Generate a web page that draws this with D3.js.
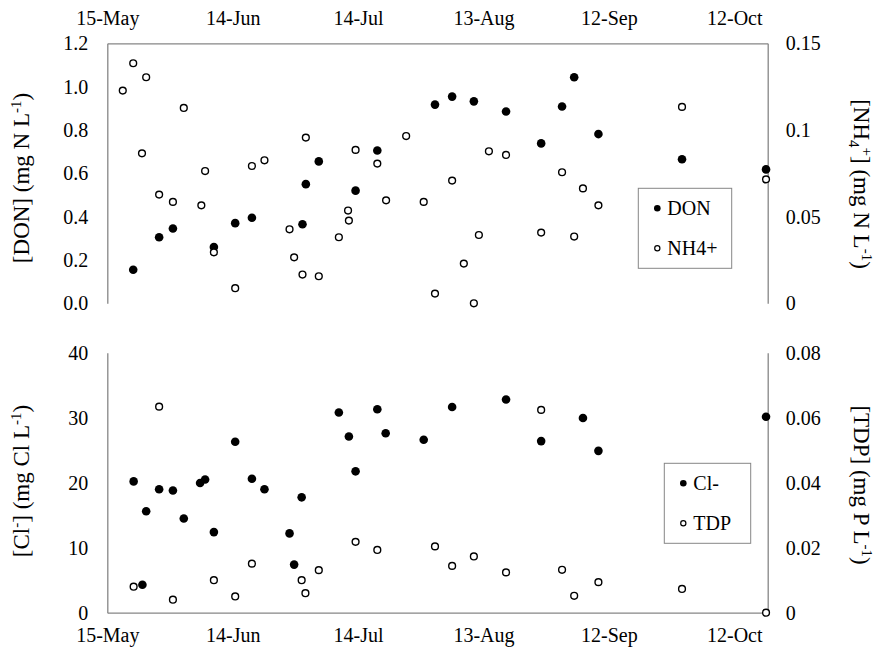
<!DOCTYPE html>
<html>
<head>
  <meta charset="UTF-8">
  <title>DON, NH4+, Cl- and TDP</title>
  <script src="https://d3js.org/d3.v7.min.js"></script>
  <style>
    body {
      margin: 0;
      background: #fff;
    }
    svg text, svg tspan {
      font-family: "Times New Roman", "Liberation Serif", Tinos, serif !important;
    }
    .axis path {
      stroke: #868686;
      stroke-width: 1.3;
    }
    .legend-box {
      fill: #fff;
      stroke: #868686;
      stroke-width: 1;
    }
  </style>
</head>
<body>
  <svg id="chart" width="875" height="651"></svg>
  <script>
    // days after 15-May for every sample, and measured values
    const donDays = [6.2, 12.4, 15.7, 25.5, 30.6, 34.6, 46.7, 47.5, 50.6, 59.4, 64.6,
                     78.4, 82.5, 87.7, 95.4, 103.8, 108.8, 111.7, 117.5, 137.5, 157.6];
    const donVals = [0.155, 0.305, 0.345, 0.26, 0.37, 0.395, 0.365, 0.55, 0.655, 0.52, 0.705,
                     0.917, 0.954, 0.932, 0.885, 0.738, 0.908, 1.043, 0.781, 0.665, 0.618];

    const nh4Days = [3.7, 6.2, 9.3, 8.3, 12.4, 15.7, 18.3, 22.5, 23.4, 25.5, 30.6, 34.6, 37.6,
                     43.6, 44.7, 46.7, 47.5, 50.6, 55.4, 57.6, 57.8, 59.4, 64.6, 66.7, 71.5,
                     75.7, 78.4, 82.5, 85.3, 87.7, 88.9, 91.3, 95.4, 103.8, 108.8, 111.7,
                     113.8, 117.5, 137.5, 157.6];
    const nh4Vals = [0.1227, 0.1385, 0.1304, 0.0865, 0.0627, 0.0585, 0.1127, 0.0565, 0.0763,
                     0.0294, 0.0087, 0.0792, 0.0825, 0.0427, 0.0265, 0.0166, 0.0956, 0.0156,
                     0.0381, 0.0535, 0.0477, 0.0885, 0.0806, 0.0594, 0.0965, 0.0585, 0.0056,
                     0.0708, 0.0229, 0.0, 0.0394, 0.0877, 0.0856, 0.0408, 0.0756, 0.0385,
                     0.0663, 0.0565, 0.1133, 0.0715];

    const clDays = [6.3, 8.4, 9.3, 12.4, 15.7, 18.3, 22.2, 23.4, 25.5, 30.6, 34.6, 37.6, 43.6,
                    44.7, 46.5, 55.4, 57.8, 59.4, 64.6, 66.6, 75.7, 82.5, 95.4, 103.8, 113.8,
                    117.5, 157.6];
    const clVals = [20.2, 4.3, 15.6, 19.0, 18.8, 14.5, 19.95, 20.5, 12.4, 26.3, 20.6, 19.0, 12.2,
                    7.4, 17.75, 30.8, 27.1, 21.75, 31.3, 27.6, 26.6, 31.65, 32.8, 26.4, 29.95,
                    24.9, 30.15];

    const tdpDays = [6.3, 12.4, 15.7, 25.5, 30.6, 34.6, 46.5, 47.4, 50.6, 59.4, 64.6, 78.4,
                     82.5, 87.7, 95.4, 103.8, 108.8, 111.7, 117.5, 137.5, 157.6];
    const tdpVals = [0.008, 0.0634, 0.004, 0.010, 0.005, 0.0151, 0.010, 0.006, 0.0131, 0.0218,
                     0.0193, 0.0204, 0.0144, 0.0173, 0.0124, 0.0624, 0.0132, 0.0052, 0.0094,
                     0.0073, 0];

    const dateTicks = ["2013-05-15", "2013-06-14", "2013-07-14", "2013-08-13", "2013-09-12", "2013-10-12"];
    const donTicks = [0, 0.2, 0.4, 0.6, 0.8, 1.0, 1.2];
    const nh4Ticks = [0, 0.05, 0.1, 0.15];
    const clTicks = [0, 10, 20, 30, 40];
    const tdpTicks = [0, 0.02, 0.04, 0.06, 0.08];

    const FONT = "Times New Roman";
    const left = 107.3, right = 767.7;
    const topPanel = { y0: 43.3, y1: 303.3 };
    const botPanel = { y0: 352.7, y1: 612.7 };

    const parse = d3.timeParse("%Y-%m-%d");
    const start = parse("2013-05-15");
    const toDate = d => new Date(start.getTime() + d * 864e5);

    const svg = d3.select("#chart").attr("font-family", FONT);

    const x = d3.scaleTime()
      .domain([start, toDate(158)])
      .range([left, right]);

    const yDon = d3.scaleLinear().domain([0, 1.2]).range([topPanel.y1, topPanel.y0]);
    const yNh4 = d3.scaleLinear().domain([0, 0.15]).range([topPanel.y1, topPanel.y0]);
    const yCl = d3.scaleLinear().domain([0, 40]).range([botPanel.y1, botPanel.y0]);
    const yTdp = d3.scaleLinear().domain([0, 0.08]).range([botPanel.y1, botPanel.y0]);

    const fmtDate = d3.timeFormat("%-d-%b");

    const serif = (sel, size) => sel
      .attr("font-family", FONT)
      .attr("font-size", size)
      .style("font-family", FONT, "important")
      .style("font-size", size + "px");

    function styleAxis(g) {
      g.attr("class", "axis").attr("font-family", FONT).attr("font-size", 20);
      g.selectAll("text").call(serif, 20).attr("fill", "#000");
    }

    // axes
    svg.append("g")
      .attr("transform", `translate(0,${topPanel.y0})`)
      .call(d3.axisTop(x).tickValues(dateTicks.map(parse)).tickFormat(fmtDate)
        .tickSize(0).tickPadding(18))
      .call(styleAxis);

    svg.append("g")
      .attr("transform", `translate(0,${botPanel.y1})`)
      .call(d3.axisBottom(x).tickValues(dateTicks.map(parse)).tickFormat(fmtDate)
        .tickSize(0).tickPadding(15))
      .call(styleAxis);

    svg.append("g")
      .attr("transform", `translate(${left},0)`)
      .call(d3.axisLeft(yDon).tickValues(donTicks).tickFormat(d3.format(".1f"))
        .tickSize(0).tickPadding(19))
      .call(styleAxis);

    svg.append("g")
      .attr("transform", `translate(${right},0)`)
      .call(d3.axisRight(yNh4).tickValues(nh4Ticks).tickFormat(d => String(d))
        .tickSize(0).tickPadding(18))
      .call(styleAxis);

    svg.append("g")
      .attr("transform", `translate(${left},0)`)
      .call(d3.axisLeft(yCl).tickValues(clTicks).tickFormat(d3.format("d"))
        .tickSize(0).tickPadding(19))
      .call(styleAxis);

    svg.append("g")
      .attr("transform", `translate(${right},0)`)
      .call(d3.axisRight(yTdp).tickValues(tdpTicks).tickFormat(d => String(d))
        .tickSize(0).tickPadding(18))
      .call(styleAxis);

    // axis titles with sub/superscripts
    function title(cx, cy, angle, parts) {
      const t = svg.append("text")
        .call(serif, 23)
        .attr("text-anchor", "middle")
        .attr("transform", `translate(${cx},${cy}) rotate(${angle})`);
      let shift = 0;
      parts.forEach(([s, kind]) => {
        const want = kind === "sup" ? -8 : kind === "sub" ? 5 : 0;
        const ts = t.append("tspan").attr("dy", want - shift).text(s);
        if (kind) ts.call(serif, 15);
        shift = want;
      });
    }

    title(29, 178, -90, [["[DON] (mg N L"], ["-1", "sup"], [")"]]);
    title(854, 184, 90, [["[NH"], ["4", "sub"], ["+", "sup"], ["] (mg N L"], ["-1", "sup"], [")"]]);
    title(29, 481, -90, [["[Cl"], ["-", "sup"], ["] (mg Cl L"], ["-1", "sup"], [")"]]);
    title(854, 485, 90, [["[TDP] (mg P L"], ["-1", "sup"], [")"]]);

    // points
    function points(days, vals, y, open) {
      svg.append("g").selectAll("circle")
        .data(days.map((d, i) => ({ d: toDate(d), v: vals[i] })))
        .join("circle")
        .attr("cx", p => x(p.d))
        .attr("cy", p => y(p.v))
        .attr("r", open ? 3.4 : 4.3)
        .attr("fill", open ? "#fff" : "#000")
        .attr("stroke", "#000")
        .attr("stroke-width", open ? 1.4 : 0);
    }

    points(donDays, donVals, yDon, false);
    points(nh4Days, nh4Vals, yNh4, true);
    points(clDays, clVals, yCl, false);
    points(tdpDays, tdpVals, yTdp, true);

    // legends
    function legend(x0, y0, w, h, items) {
      const g = svg.append("g");
      g.append("rect").attr("class", "legend-box")
        .attr("x", x0).attr("y", y0).attr("width", w).attr("height", h);
      items.forEach((it, i) => {
        const cy = y0 + 20 + i * 40;
        g.append("circle")
          .attr("cx", x0 + 19).attr("cy", cy)
          .attr("r", it.open ? 2.6 : 3.3)
          .attr("fill", it.open ? "#fff" : "#000")
          .attr("stroke", "#000").attr("stroke-width", it.open ? 1.2 : 0);
        g.append("text")
          .attr("x", x0 + 29).attr("y", cy + 7)
          .call(serif, 20)
          .text(it.label);
      });
    }

    legend(638.3, 188.3, 93.4, 80, [{ label: "DON", open: false }, { label: "NH4+", open: true }]);
    legend(664.3, 463.3, 86.4, 80, [{ label: "Cl-", open: false }, { label: "TDP", open: true }]);
  </script>
</body>
</html>
